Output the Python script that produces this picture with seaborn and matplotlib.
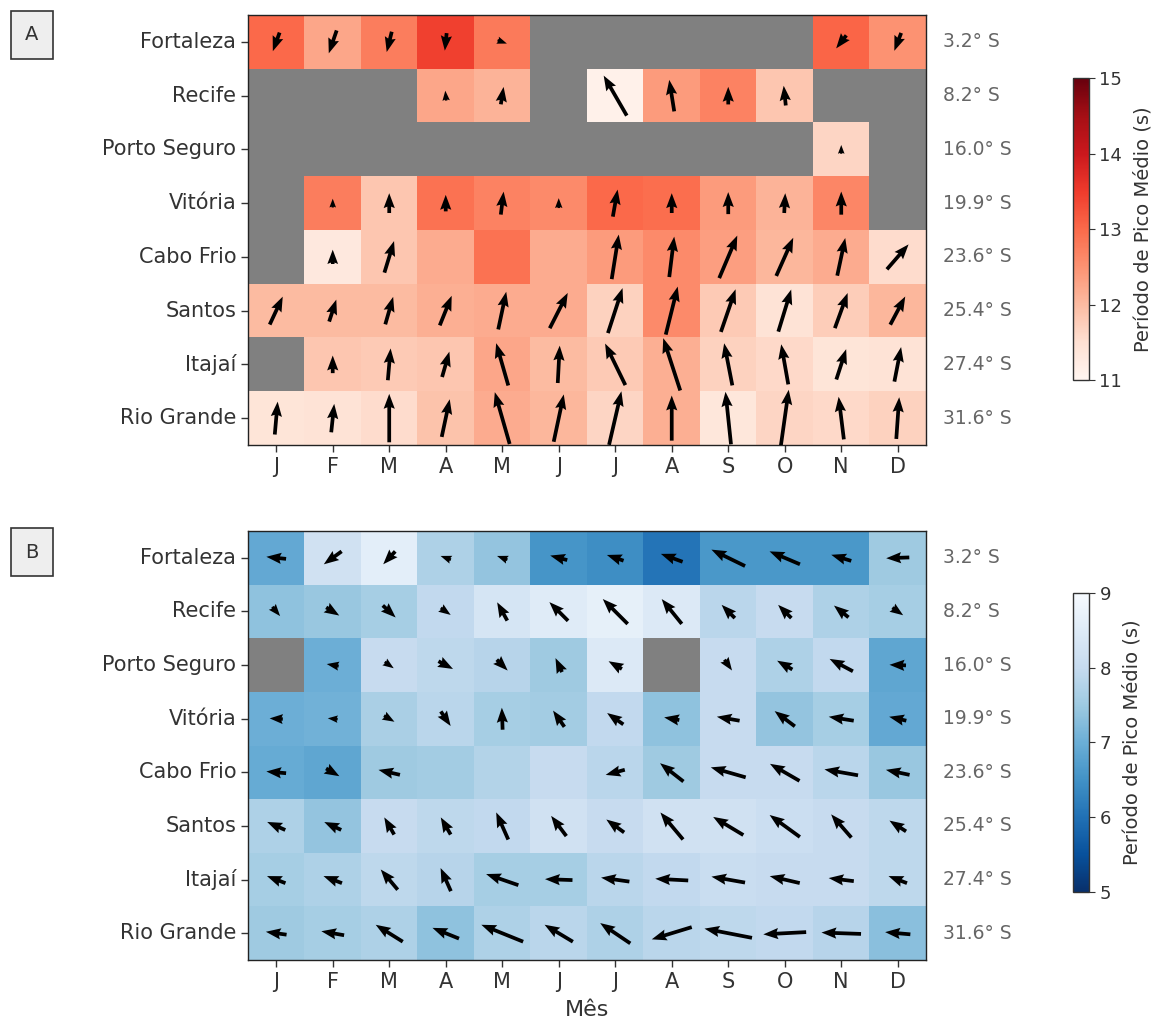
import numpy as np
import matplotlib
matplotlib.use("Agg")
import matplotlib.pyplot as plt
import seaborn as sns

nan = np.nan

meses = ["J", "F", "M", "A", "M", "J", "J", "A", "S", "O", "N", "D"]
cidades = ["Fortaleza", "Recife", "Porto Seguro", "Vitória",
           "Cabo Frio", "Santos", "Itajaí", "Rio Grande"]
latitudes = ["3.2° S", "8.2° S", "16.0° S", "19.9° S",
             "23.6° S", "25.4° S", "27.4° S", "31.6° S"]

# --- Painel A: swell (período de pico, direção de origem, altura) ---
tp_swell = [
    [13.0, 12.25, 12.75, 13.45, 12.8, nan, nan, nan, nan, nan, 13.05, 12.5],
    [nan, nan, nan, 12.25, 12.1, nan, 11.1, 12.4, 12.7, 11.85, nan, nan],
    [nan, nan, nan, nan, nan, nan, nan, nan, nan, nan, 11.65, nan],
    [nan, 12.75, 11.85, 12.9, 12.7, 12.6, 13.0, 12.95, 12.4, 12.1, 12.65, nan],
    [nan, 11.3, 11.85, 12.2, 12.9, 12.2, 12.4, 12.6, 12.35, 12.05, 12.2, 11.55],
    [12.0, 12.0, 12.0, 12.15, 12.2, 12.2, 11.7, 12.6, 11.8, 11.45, 11.75, 12.05],
    [nan, 11.85, 11.8, 11.85, 12.25, 12.0, 11.8, 12.15, 11.7, 11.6, 11.4, 11.45],
    [11.4, 11.45, 11.55, 11.9, 12.2, 12.05, 11.65, 12.15, 11.35, 11.65, 11.6, 11.7],
]
dir_swell = [
    [20, 19, 14, 6, 290, nan, nan, nan, nan, nan, 38, 21],
    [nan, nan, nan, 175, 189, nan, 150, 171, 180, 174, nan, nan],
    [nan, nan, nan, nan, nan, nan, nan, nan, nan, nan, 180, nan],
    [nan, 180, 180, 180, 187, 180, 190, 180, 180, 183, 180, nan],
    [nan, 180, 197, nan, nan, nan, 189, 187, 203, 204, 192, 221],
    [205, 198, 196, 202, 192, 207, 198, 194, 199, 197, 200, 208],
    [nan, 180, 185, 196, 164, 183, 154, 162, 169, 170, 198, 191],
    [185, 186, 180, 192, 164, 192, 193, 180, 174, 188, 173, 184],
]
hs_swell = [
    [0.9, 1.1, 0.95, 0.8, 0.45, nan, nan, nan, nan, nan, 0.75, 0.87],
    [nan, nan, nan, 0.45, 0.8, nan, 2.1, 1.45, 0.8, 0.9, nan, nan],
    [nan, nan, nan, nan, nan, nan, nan, nan, nan, nan, 0.4, nan],
    [nan, 0.4, 0.9, 0.75, 1.05, 0.45, 1.25, 0.9, 1.0, 0.9, 1.05, nan],
    [nan, 0.65, 1.5, nan, nan, nan, 2.05, 1.85, 2.1, 1.9, 1.75, 1.5],
    [1.4, 1.05, 1.3, 1.45, 1.75, 1.8, 2.15, 2.25, 2.05, 2.0, 1.7, 1.45],
    [nan, 0.8, 1.45, 1.2, 2.0, 1.7, 2.1, 2.5, 1.95, 1.85, 1.45, 1.6],
    [1.5, 1.3, 2.2, 1.75, 2.45, 2.2, 2.5, 2.05, 2.4, 2.6, 1.95, 1.9],
]

# --- Painel B: vaga (wind sea) ---
tp_vaga = [
    [6.9, 8.2, 8.6, 7.7, 7.4, 6.55, 6.45, 6.05, 6.6, 6.6, 6.6, 7.5],
    [7.35, 7.45, 7.6, 7.95, 8.3, 8.5, 8.65, 8.45, 7.85, 8.0, 7.7, 7.6],
    [nan, 7.0, 8.0, 7.9, 7.8, 7.5, 8.45, nan, 8.0, 7.7, 7.95, 6.85],
    [7.0, 7.05, 7.65, 7.85, 7.6, 7.55, 7.95, 7.35, 8.0, 7.4, 7.6, 6.9],
    [6.95, 6.85, 7.5, 7.55, 7.75, 8.0, 7.85, 7.5, 8.0, 8.0, 7.85, 7.45],
    [7.7, 7.4, 8.0, 7.9, 7.95, 8.2, 8.0, 8.2, 8.2, 8.1, 8.0, 7.9],
    [7.6, 7.7, 7.9, 7.8, 7.6, 7.6, 7.85, 7.95, 8.05, 8.0, 8.0, 7.9],
    [7.5, 7.6, 7.7, 7.35, 7.7, 7.85, 7.7, 7.85, 7.9, 7.95, 7.8, 7.3],
]
dir_vaga = [
    [96, 54, 43, 110, 110, 105, 109, 110, 116, 113, 107, 88],
    [320, 302, 313, 305, 151, 135, 135, 141, 135, 135, 129, 305],
    [nan, 100, 305, 298, 315, 155, 120, nan, 325, 120, 118, 92],
    [93, 95, 300, 326, 178, 145, 125, 100, 100, 127, 99, 103],
    [95, 300, 103, nan, nan, nan, 75, 128, 106, 120, 100, 102],
    [114, 115, 150, 150, 156, 143, 126, 140, 121, 126, 139, 123],
    [111, 111, 140, 156, 109, 92, 98, 93, 100, 103, 97, 111],
    [98, 100, 122, 112, 112, 121, 124, 73, 101, 87, 92, 95],
]
hs_vaga = [
    [0.9, 1.0, 0.8, 0.5, 0.5, 0.8, 0.8, 1.05, 1.7, 1.5, 0.95, 1.05],
    [0.55, 0.7, 0.8, 0.55, 0.95, 1.2, 1.6, 1.45, 0.85, 0.85, 0.85, 0.6],
    [nan, 0.55, 0.5, 0.75, 0.7, 0.7, 0.7, nan, 0.6, 0.8, 1.2, 0.75],
    [0.6, 0.45, 0.55, 0.8, 1.0, 0.9, 0.9, 0.7, 1.05, 1.15, 1.15, 0.8],
    [0.9, 0.7, 1.0, nan, nan, nan, 0.9, 1.35, 1.65, 1.55, 1.55, 1.1],
    [0.9, 0.85, 0.9, 0.9, 1.35, 1.15, 1.0, 1.6, 1.6, 1.7, 1.4, 0.9],
    [0.9, 0.9, 1.2, 1.15, 1.55, 1.25, 1.3, 1.5, 1.55, 1.4, 1.15, 0.9],
    [0.95, 1.05, 1.45, 1.3, 2.05, 1.5, 1.65, 1.9, 2.2, 1.95, 1.8, 1.15],
]

TXT = "#333333"
plt.rcParams["font.family"] = ["DejaVu Sans"]

fig = plt.figure(figsize=(11.62, 10.21), dpi=100)

painel = [
    dict(tp=tp_swell, d=dir_swell, h=hs_swell, cmap="Reds", vmin=11, vmax=15,
         ax=[0.2134, 0.5642, 0.5835, 0.4211], cax=[0.9234, 0.6278, 0.0138, 0.2958],
         letra="A", ly=0.966, xlabel=None),
    dict(tp=tp_vaga, d=dir_vaga, h=hs_vaga, cmap="Blues_r", vmin=5, vmax=9,
         ax=[0.2134, 0.0597, 0.5835, 0.4202], cax=[0.9234, 0.1264, 0.0138, 0.2929],
         letra="B", ly=0.459, xlabel="Mês"),
]

for p in painel:
    ax = fig.add_axes(p["ax"])
    cax = fig.add_axes(p["cax"])
    tp = np.array(p["tp"], dtype=float)
    sns.heatmap(tp, ax=ax, cmap=p["cmap"], vmin=p["vmin"], vmax=p["vmax"],
                cbar_ax=cax, xticklabels=meses, yticklabels=cidades,
                cbar_kws={"ticks": np.arange(p["vmin"], p["vmax"] + 1)})
    ax.set_facecolor("#808080")
    for s in ax.spines.values():
        s.set_visible(True)
        s.set_color("#222222")
        s.set_linewidth(1.0)
    ax.tick_params(axis="both", length=5, width=1, color="#333333",
                   labelsize=15, labelcolor=TXT)
    ax.set_yticklabels(cidades, rotation=0)
    ax.set_xticklabels(meses, rotation=0)
    if p["xlabel"]:
        ax.set_xlabel(p["xlabel"], fontsize=16, color=TXT, labelpad=6)

    # setas: direção de origem (graus) -> componente de propagação na tela
    d = np.deg2rad(np.array(p["d"], dtype=float))
    h = np.array(p["h"], dtype=float)
    rows, cols = np.nonzero(~np.isnan(d))
    U = -h[rows, cols] * np.sin(d[rows, cols])
    V = -h[rows, cols] * np.cos(d[rows, cols])
    ax.quiver(cols + 0.5, rows + 0.5, U, V, angles="uv", scale_units="dots",
              scale=1 / 22, pivot="middle", width=0.0055, headwidth=3.0,
              headlength=4.0, headaxislength=3.6, color="black", zorder=3)

    for i, lat in enumerate(latitudes):
        ax.text(12.3, i + 0.5, lat, ha="left", va="center", fontsize=13.5,
                color="#666666")

    cb = ax.collections[0].colorbar
    cb.outline.set_edgecolor("#333333")
    cb.outline.set_linewidth(1.0)
    cb.ax.tick_params(labelsize=13, labelcolor=TXT, length=4, color="#333333")
    cb.set_label("Período de Pico Médio (s)", fontsize=14, color=TXT, labelpad=8)

    fig.text(0.0275, p["ly"], p["letra"], ha="center", va="center", fontsize=14,
             color=TXT, bbox=dict(boxstyle="square,pad=0.75", fc="#eeeeee",
                                  ec="#333333", lw=1.2))

fig.savefig("out.png", dpi=100)
